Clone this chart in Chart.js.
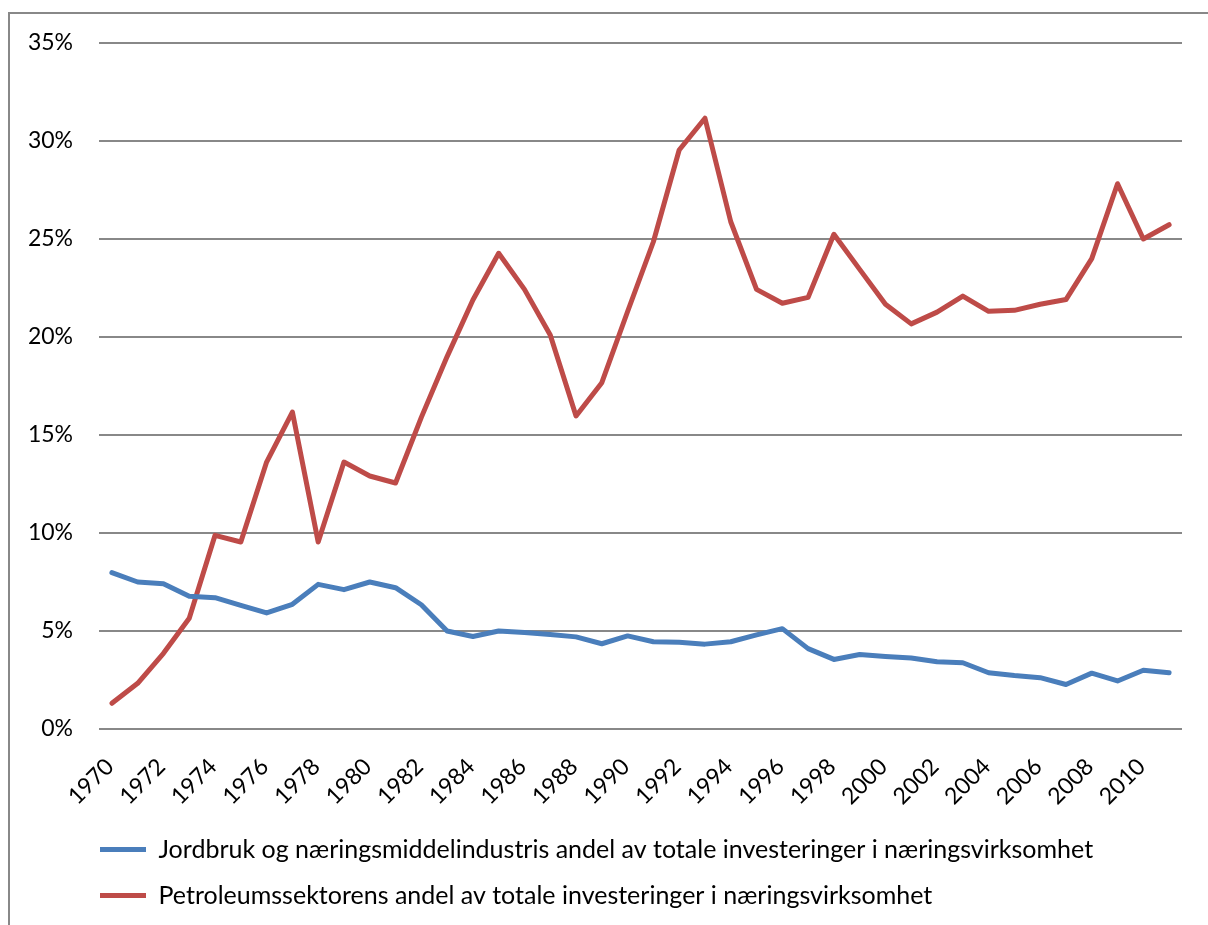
<!DOCTYPE html>
<html>
<head>
<meta charset="utf-8">
<script src="https://cdn.jsdelivr.net/npm/chart.js@4.4.1/dist/chart.umd.min.js"></script>
<style>
  html, body { margin: 0; padding: 0; background: #fff; }
  #wrap { width: 1208px; height: 925px; position: relative; }
</style>
</head>
<body>
<div id="wrap"><canvas id="c" width="1208" height="925"></canvas></div>
<script>
const years = [];
for (let y = 1970; y <= 2011; y++) years.push(String(y));

const seriesNames = [
  "Jordbruk og næringsmiddelindustris andel av totale investeringer i næringsvirksomhet",
  "Petroleumssektorens andel av totale investeringer i næringsvirksomhet"
];

const jordbruk = [7.98,7.5,7.41,6.77,6.70,6.31,5.92,6.36,7.38,7.11,7.5,7.21,6.34,5.0,4.72,
  5.0,4.92,4.82,4.7,4.35,4.75,4.45,4.42,4.33,4.45,4.8,5.12,4.1,
  3.55,3.8,3.7,3.62,3.43,3.38,2.87,2.73,2.62,2.27,2.85,2.45,3.0,2.87];

const petroleum = [1.31,2.33,3.86,5.65,9.88,9.54,13.62,16.17,9.54,13.62,12.91,12.55,
  15.9,19.0,21.89,24.27,22.43,20.1,15.97,17.67,21.3,24.86,29.54,31.16,25.88,22.43,21.72,22.02,25.24,
  23.45,21.67,20.67,21.27,22.09,21.31,21.36,21.67,21.91,24.0,27.82,25.0,25.73];

const yMin = 0, yMax = 35, yStep = 5;

const frame = {
  id: 'frame',
  beforeDraw(chart) {
    const ctx = chart.ctx;
    ctx.save();
    ctx.fillStyle = '#fff';
    ctx.fillRect(0, 0, chart.width, chart.height);
    ctx.strokeStyle = '#888888';
    ctx.lineWidth = 2;
    ctx.strokeRect(9, 13, 1400, 1100);
    ctx.restore();
  },
  afterLayout(chart) {
    if (chart.legend) {
      chart.legend.left += 79;
      chart.legend.right += 79;
    }
  }
};

const FONT = "Lato, 'Noto Sans', sans-serif";

new Chart(document.getElementById('c'), {
  type: 'line',
  data: {
    labels: years,
    datasets: [
      { label: seriesNames[0], data: jordbruk, borderColor: '#4A7EBB', backgroundColor: '#4A7EBB',
        borderWidth: 5, pointRadius: 0, tension: 0, borderCapStyle: 'round', borderJoinStyle: 'round' },
      { label: seriesNames[1], data: petroleum, borderColor: '#BE4B48', backgroundColor: '#BE4B48',
        borderWidth: 5, pointRadius: 0, tension: 0, borderCapStyle: 'round', borderJoinStyle: 'round' }
    ]
  },
  options: {
    responsive: false,
    animation: false,
    devicePixelRatio: 1,
    layout: { padding: { left: 0, right: 26, top: 43, bottom: 7 } },
    plugins: {
      tooltip: { enabled: false },
      legend: {
        position: 'bottom',
        align: 'start',
        labels: {
          color: '#000',
          font: { family: FONT, size: 25 },
          boxWidth: 46,
          boxHeight: 5,
          padding: 21,
          generateLabels(chart) {
            return chart.data.datasets.map((ds, i) => ({
              text: ds.label, fillStyle: ds.borderColor, strokeStyle: ds.borderColor,
              lineWidth: 0, hidden: false, datasetIndex: i, fontColor: '#000'
            }));
          }
        }
      }
    },
    scales: {
      x: {
        offset: true,
        grid: { display: false, drawTicks: false },
        border: { display: false },
        ticks: {
          autoSkip: false,
          maxRotation: 45, minRotation: 45,
          color: '#000',
          font: { family: FONT, size: 23 },
          padding: 24,
          labelOffset: -2,
          callback(v, i) { return i % 2 === 0 ? years[i] : ''; }
        },
        afterFit(scale) {
          scale.height = 87;
          scale.paddingLeft = 0;
          scale.paddingRight = 0;
        }
      },
      y: {
        min: yMin, max: yMax,
        grid: { color: '#888888', lineWidth: 2, drawTicks: false },
        border: { display: false },
        ticks: {
          stepSize: yStep,
          color: '#000',
          font: { family: FONT, size: 23 },
          padding: 26,
          callback(v) { return v + '%'; }
        },
        afterFit(scale) { scale.width = 99; }
      }
    }
  },
  plugins: [frame]
});
</script>
</body>
</html>
